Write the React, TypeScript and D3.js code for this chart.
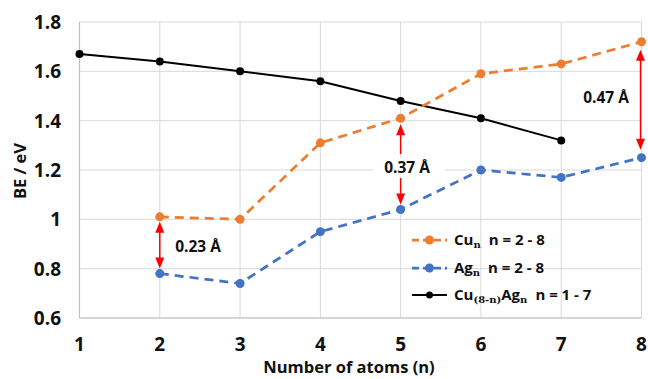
import React from "react";
import * as d3 from "d3";

const xTicks = [1, 2, 3, 4, 5, 6, 7, 8];
const yTicks = [0.6, 0.8, 1.0, 1.2, 1.4, 1.6, 1.8];
const yTickLabels = ["0.6", "0.8", "1", "1.2", "1.4", "1.6", "1.8"];

const cuN = [2, 3, 4, 5, 6, 7, 8];
const cuBE = [1.01, 1.0, 1.31, 1.41, 1.59, 1.63, 1.72];
const agN = [2, 3, 4, 5, 6, 7, 8];
const agBE = [0.78, 0.74, 0.95, 1.04, 1.2, 1.17, 1.25];
const mixN = [1, 2, 3, 4, 5, 6, 7];
const mixBE = [1.67, 1.64, 1.6, 1.56, 1.48, 1.41, 1.32];

const gapLabels = ["0.23 Å", "0.37 Å", "0.47 Å"];
const gapN = [2, 5, 8];

const ORANGE = "#ED7D31";
const BLUE = "#4472C4";
const RED = "#FF0000";
const FONT = "'Open Sans', Lato, sans-serif";
const TXT = "#111";

export default function App() {
  const W = 648, H = 379;
  const x = d3.scaleLinear().domain([1, 8]).range([79.5, 641.5]);
  const y = d3.scaleLinear().domain([0.6, 1.8]).range([318, 22]);
  const line = d3.line<[number, number]>().x(d => x(d[0])).y(d => y(d[1]));
  const cu = cuN.map((n, i) => [n, cuBE[i]] as [number, number]);
  const ag = agN.map((n, i) => [n, agBE[i]] as [number, number]);
  const mix = mixN.map((n, i) => [n, mixBE[i]] as [number, number]);

  const cuAt = (n: number) => cuBE[cuN.indexOf(n)];
  const agAt = (n: number) => agBE[agN.indexOf(n)];

  const arrowHead = (xx: number, yy: number, dir: number, key: string) => (
    <path key={key} d={`M${xx},${yy} L${xx - 4.5},${yy + dir * 11} L${xx + 4.5},${yy + dir * 11} Z`} fill={RED} />
  );

  return (
    <svg width={W} height={H} style={{ position: "absolute", left: 0, top: 0, background: "#fff" }} fontFamily={FONT}>
      <rect width={W} height={H} fill="#fff" />
      {/* gridlines */}
      {yTicks.map(t => (
        <line key={"gy" + t} x1={x(1)} x2={x(8)} y1={y(t)} y2={y(t)} stroke="#d9d9d9" strokeWidth={1} />
      ))}
      {xTicks.map(t => (
        <line key={"gx" + t} x1={x(t)} x2={x(t)} y1={y(1.8)} y2={y(0.6)} stroke="#d9d9d9" strokeWidth={1} />
      ))}
      <line x1={x(1)} x2={x(8)} y1={y(0.6)} y2={y(0.6)} stroke="#bfbfbf" strokeWidth={1.2} />
      <line x1={x(1)} x2={x(1)} y1={y(1.8)} y2={y(0.6)} stroke="#bfbfbf" strokeWidth={1.2} />

      {/* tick labels */}
      {yTicks.map((t, i) => (
        <text key={"ty" + t} x={61} y={y(t)} dy="0.36em" textAnchor="end" fontSize={19} fontWeight={700} fill={TXT}>
          {yTickLabels[i]}
        </text>
      ))}
      {xTicks.map(t => (
        <text key={"tx" + t} x={x(t)} y={344} dy="0.36em" textAnchor="middle" fontSize={19} fontWeight={700} fill={TXT}>
          {t}
        </text>
      ))}
      <text x={349} y={367} dy="0.36em" textAnchor="middle" fontSize={16.5} fontWeight={700} fill={TXT}>Number of atoms (n)</text>
      <text transform={`translate(20,171) rotate(-90)`} dy="0.36em" textAnchor="middle" fontSize={16.5} fontWeight={700} fill={TXT}>BE / eV</text>

      {/* series */}
      <path d={line(mix) || ""} fill="none" stroke="#000" strokeWidth={2} />
      {mix.map((d, i) => <circle key={"m" + i} cx={x(d[0])} cy={y(d[1])} r={4} fill="#000" />)}
      <path d={line(cu) || ""} fill="none" stroke={ORANGE} strokeWidth={2.75} strokeDasharray="9,6" />
      {cu.map((d, i) => <circle key={"c" + i} cx={x(d[0])} cy={y(d[1])} r={4.5} fill={ORANGE} />)}
      <path d={line(ag) || ""} fill="none" stroke={BLUE} strokeWidth={2.75} strokeDasharray="9,6" />
      {ag.map((d, i) => <circle key={"a" + i} cx={x(d[0])} cy={y(d[1])} r={4.5} fill={BLUE} />)}

      {/* gap arrows */}
      {(() => {
        const n = gapN[0];
        const xx = x(n), y1 = y(cuAt(n)) + 5, y2 = y(agAt(n)) - 5;
        return (
          <g>
            <line x1={xx} x2={xx} y1={y1 + 8} y2={y2 - 8} stroke={RED} strokeWidth={1.5} />
            {arrowHead(xx, y1, 1, "a1")}
            {arrowHead(xx, y2, -1, "a2")}
            <text x={198} y={247} dy="0.35em" textAnchor="middle" fontSize={15.5} fontWeight={700} fill={TXT}>{gapLabels[0]}</text>
          </g>
        );
      })()}
      {(() => {
        const n = gapN[1];
        const xx = x(n), y1 = y(cuAt(n)) + 6, y2 = y(agAt(n)) - 5;
        const ty = 168;
        return (
          <g>
            <rect x={373} y={ty - 10} width={72} height={20} fill="#fff" />
            <line x1={xx} x2={xx} y1={y1 + 8} y2={ty - 14} stroke={RED} strokeWidth={1.5} />
            <line x1={xx} x2={xx} y1={ty + 10} y2={y2 - 8} stroke={RED} strokeWidth={1.5} />
            {arrowHead(xx, y1, 1, "b1")}
            {arrowHead(xx, y2, -1, "b2")}
            <text x={407} y={ty} dy="0.35em" textAnchor="middle" fontSize={15.5} fontWeight={700} fill={TXT}>{gapLabels[1]}</text>
          </g>
        );
      })()}
      {(() => {
        const n = gapN[2];
        const xx = x(n) - 1, y1 = y(cuAt(n)) + 8, y2 = y(agAt(n)) - 8;
        return (
          <g>
            <line x1={xx} x2={xx} y1={y1 + 8} y2={y2 - 8} stroke={RED} strokeWidth={1.5} />
            {arrowHead(xx, y1, 1, "c1")}
            {arrowHead(xx, y2, -1, "c2")}
            <text x={606} y={98} dy="0.35em" textAnchor="middle" fontSize={15.5} fontWeight={700} fill={TXT}>{gapLabels[2]}</text>
          </g>
        );
      })()}

      {/* legend */}
      {[
        { yy: 240, color: ORANGE, dashed: true, main: "Cu", sub: "n", mid: "", sub2: "", tail: "n = 2 - 8" },
        { yy: 268, color: BLUE, dashed: true, main: "Ag", sub: "n", mid: "", sub2: "", tail: "n = 2 - 8" },
        { yy: 295, color: "#000", dashed: false, main: "Cu", sub: "(8-n)", mid: "Ag", sub2: "n", tail: "n = 1 - 7" },
      ].map((it, i) => (
        <g key={"lg" + i}>
          <line x1={412} x2={447} y1={it.yy} y2={it.yy} stroke={it.color} strokeWidth={it.dashed ? 2.75 : 2}
            strokeDasharray={it.dashed ? "7,4" : undefined} />
          <circle cx={429.5} cy={it.yy} r={it.dashed ? 4.5 : 3.5} fill={it.color} />
          <text x={454} y={it.yy} dy="0.36em" fontSize={15} fontWeight={700} fill={TXT}>
            {it.main}
            <tspan fontSize={10} dy="3" fontFamily="'DejaVu Serif', serif">{it.sub}</tspan>
            {it.mid ? <tspan dy="-3">{it.mid}</tspan> : null}
            {it.sub2 ? <tspan fontSize={10} dy="3" fontFamily="'DejaVu Serif', serif">{it.sub2}</tspan> : null}
            <tspan dy="-3" dx="8">{it.tail}</tspan>
          </text>
        </g>
      ))}
    </svg>
  );
}
